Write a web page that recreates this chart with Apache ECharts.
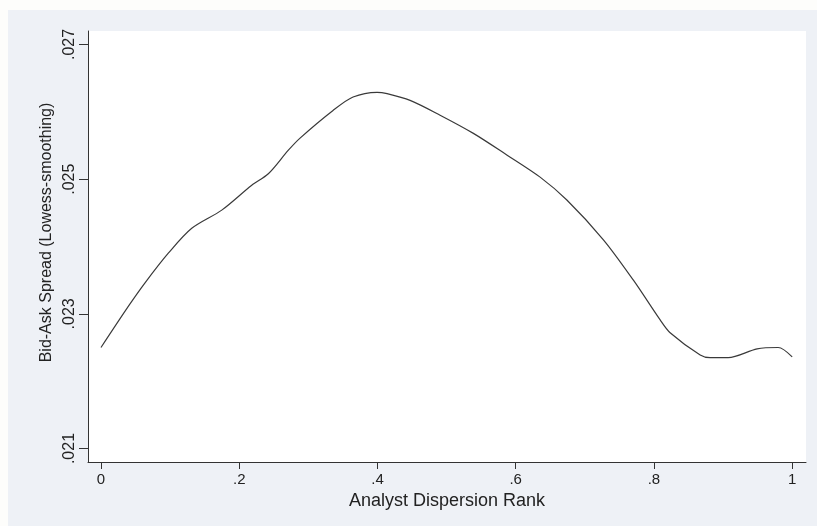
<!DOCTYPE html>
<html>
<head>
<meta charset="utf-8">
<script src="https://cdn.jsdelivr.net/npm/echarts@6/dist/echarts.min.js"></script>
<style>
html,body{margin:0;padding:0;background:#ffffff;}
#chart{width:817px;height:526px;}
</style>
</head>
<body>
<div id="chart"></div>
<script>
// Data
const rankX = [0, 0.0395, 0.0637, 0.0974, 0.1313, 0.1747, 0.2181, 0.2421, 0.2711, 0.288, 0.3357, 0.3647, 0.3994, 0.4139, 0.4472, 0.4906, 0.5388, 0.5871, 0.6353, 0.674, 0.7269, 0.7703, 0.809, 0.8234, 0.8669, 0.8813, 0.9074, 0.9493, 0.9797, 1.0];
const spreadY = [0.02250, 0.02311, 0.02346, 0.02390, 0.02427, 0.02454, 0.02491, 0.02508, 0.02543, 0.02561, 0.02602, 0.02622, 0.02629, 0.02627, 0.02617, 0.02595, 0.02568, 0.02536, 0.02503, 0.02469, 0.02410, 0.02350, 0.02291, 0.02272, 0.02239, 0.02235, 0.02235, 0.02248, 0.02250, 0.02236];
const xTicks = [0, 0.2, 0.4, 0.6, 0.8, 1];
const yTicks = [0.021, 0.023, 0.025, 0.027];
const xTitle = 'Analyst Dispersion Rank';
const yTitle = 'Bid-Ask Spread (Lowess-smoothing)';

const points = rankX.map((x, i) => [x, spreadY[i]]);
const fmt = v => {
  const r = Math.round(v * 1000) / 1000;
  if (r === 0) return '0';
  if (r === 1) return '1';
  return String(r).replace(/^0\./, '.');
};
const font = 'Liberation Sans, Arial, sans-serif';

const chart = echarts.init(document.getElementById('chart'), null, {renderer: 'canvas'});
chart.setOption({
  backgroundColor: '#eef1f6',
  animation: false,
  graphic: [
    {type: 'rect', left: 0, top: 0, shape: {width: 817, height: 10}, style: {fill: '#fdfdfb'}, silent: true, z: -10},
    {type: 'rect', left: 0, top: 0, shape: {width: 8, height: 526}, style: {fill: '#fdfdfb'}, silent: true, z: -10}
  ],
  grid: {left: 88, top: 31, right: 11, bottom: 64, show: true, backgroundColor: '#ffffff', borderWidth: 0},
  xAxis: {
    type: 'value', min: -0.0188, max: 1.02,
    name: xTitle, nameLocation: 'middle', nameGap: 26,
    nameTextStyle: {fontFamily: font, fontSize: 18, color: '#222'},
    axisLine: {show: true, onZero: false, lineStyle: {color: '#333', width: 1}},
    axisTick: {show: true, customValues: xTicks, length: 7, lineStyle: {color: '#333'}},
    axisLabel: {customValues: xTicks, formatter: fmt, fontFamily: font, fontSize: 15, color: '#222', margin: 10},
    splitLine: {show: false}
  },
  yAxis: {
    type: 'value', min: 0.0208, max: 0.0272,
    name: yTitle, nameLocation: 'middle', nameGap: 32, nameRotate: 90,
    nameTextStyle: {fontFamily: font, fontSize: 16, color: '#222', padding: [0, 0, 0, 28]},
    axisLine: {show: true, onZero: false, lineStyle: {color: '#333', width: 1}},
    axisTick: {show: true, customValues: yTicks, length: 9, lineStyle: {color: '#333'}},
    axisLabel: {customValues: yTicks, formatter: fmt, rotate: 90, fontFamily: font, fontSize: 16, color: '#222', margin: 10},
    splitLine: {show: false}
  },
  series: [{
    type: 'line',
    data: points,
    smooth: 0.3,
    showSymbol: false,
    symbol: 'none',
    lineStyle: {color: '#3a3a3a', width: 1.2},
    markLine: {
      silent: true, symbol: 'none', label: {show: false},
      lineStyle: {color: '#eef1f6', width: 1, type: 'solid'},
      data: yTicks.map(v => ({yAxis: v}))
    },
    z: 3
  }]
});
</script>
</body>
</html>
